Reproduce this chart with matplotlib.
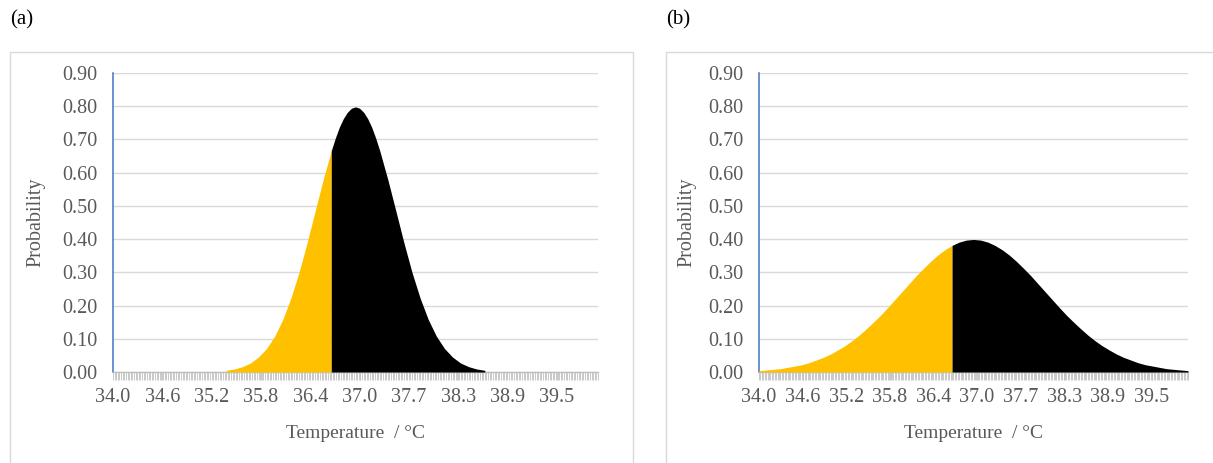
import matplotlib
matplotlib.use("Agg")
import matplotlib.pyplot as plt
from matplotlib.patches import Rectangle
from matplotlib.ticker import MultipleLocator

# ---- data ----
# (a) narrow curve, only drawn between 35.4 and 38.6 degC
temps_a = [35.4, 35.5, 35.6, 35.7, 35.8, 35.9, 36.0, 36.1, 36.2, 36.3,
           36.4, 36.5, 36.6, 36.7, 36.75, 36.8, 36.85, 36.9, 36.95, 37.0,
           37.05, 37.1, 37.15, 37.2, 37.25, 37.3,
           37.4, 37.5, 37.6, 37.7, 37.8, 37.9, 38.0, 38.1, 38.2, 38.3,
           38.4, 38.5, 38.6]
prob_a = [0.005, 0.009, 0.016, 0.027, 0.045, 0.071, 0.108, 0.158, 0.222, 0.299,
          0.388, 0.484, 0.579, 0.666, 0.704, 0.737, 0.763, 0.782, 0.794, 0.798,
          0.794, 0.782, 0.763, 0.737, 0.704, 0.666,
          0.579, 0.484, 0.388, 0.299, 0.222, 0.158, 0.108, 0.071, 0.045, 0.027,
          0.016, 0.009, 0.005]

# (b) wide curve over the whole range
temps_b = [34.0, 34.1, 34.2, 34.3, 34.4, 34.5, 34.6, 34.7, 34.8, 34.9,
           35.0, 35.1, 35.2, 35.3, 35.4, 35.5, 35.6, 35.7, 35.8, 35.9,
           36.0, 36.1, 36.2, 36.3, 36.4, 36.5, 36.6, 36.7, 36.8, 36.9,
           37.0, 37.1, 37.2, 37.3, 37.4, 37.5, 37.6, 37.7, 37.8, 37.9,
           38.0, 38.1, 38.2, 38.3, 38.4, 38.5, 38.6, 38.7, 38.8, 38.9,
           39.0, 39.1, 39.2, 39.3, 39.4, 39.5, 39.6, 39.7, 39.8, 39.9,
           40.0]
prob_b = [0.004, 0.006, 0.008, 0.010, 0.014, 0.018, 0.022, 0.028, 0.036, 0.044,
          0.054, 0.066, 0.079, 0.094, 0.111, 0.130, 0.150, 0.171, 0.194, 0.218,
          0.242, 0.266, 0.290, 0.312, 0.333, 0.352, 0.368, 0.381, 0.391, 0.397,
          0.399, 0.397, 0.391, 0.381, 0.368, 0.352, 0.333, 0.312, 0.290, 0.266,
          0.242, 0.218, 0.194, 0.171, 0.150, 0.130, 0.111, 0.094, 0.079, 0.066,
          0.054, 0.044, 0.036, 0.028, 0.022, 0.018, 0.014, 0.010, 0.008, 0.006,
          0.004]

cutoff = 36.7  # yellow below, black above

x_tick_pos = [34.0, 34.61, 35.22, 35.83, 36.44, 37.05, 37.66, 38.27, 38.88, 39.49]
x_tick_labels = ['34.0', '34.6', '35.2', '35.8', '36.4', '37.0', '37.7', '38.3', '38.9', '39.5']
y_ticks = [0.0, 0.1, 0.2, 0.3, 0.4, 0.5, 0.6, 0.7, 0.8, 0.9]

plt.rcParams['font.family'] = ['Liberation Serif', 'DejaVu Serif']
TXT = '#595959'
W, H = 1213, 463


def make_plot(fig, rect, temps, probs, ylab_x):
    ax = fig.add_axes(rect)
    low = [(t, p) for t, p in zip(temps, probs) if t <= cutoff]
    high = [(t, p) for t, p in zip(temps, probs) if t >= cutoff]
    ax.fill_between([v[0] for v in low], [v[1] for v in low], color='#FFC000', lw=0, zorder=3)
    ax.fill_between([v[0] for v in high], [v[1] for v in high], color='black', lw=0, zorder=3)

    ax.set_xlim(34.0, 40.0)
    ax.set_ylim(0, 0.90)
    ax.set_yticks(y_ticks)
    ax.set_yticklabels(['%.2f' % v for v in y_ticks])
    ax.set_xticks(x_tick_pos)
    ax.set_xticklabels(x_tick_labels)
    ax.xaxis.set_minor_locator(MultipleLocator(0.02))

    ax.grid(axis='y', color='#d9d9d9', lw=1.0, zorder=0)
    ax.set_axisbelow(True)
    for s in ['top', 'right']:
        ax.spines[s].set_visible(False)
    ax.spines['left'].set_color('#4472C4')
    ax.spines['left'].set_linewidth(1.1)
    ax.spines['bottom'].set_color('#bfbfbf')
    ax.spines['bottom'].set_linewidth(1.0)

    ax.tick_params(axis='y', length=0, pad=11, labelsize=14.5, labelcolor=TXT)
    ax.tick_params(axis='x', which='both', direction='out', length=5.5,
                   color='#c0c0c0', width=0.6, pad=6, labelsize=14.5, labelcolor=TXT)

    ax.set_ylabel('Probability', fontsize=14.5, color=TXT)
    ax.yaxis.set_label_coords(ylab_x, 0.5)
    ax.set_xlabel('Temperature  / \u00b0C', fontsize=14, color=TXT)
    ax.xaxis.set_label_coords(0.5, -0.205)
    ax.xaxis.label.set_verticalalignment('center')
    return ax


def main():
    fig = plt.figure(figsize=(W / 100, H / 100), dpi=100)

    # panel frames
    fig.patches.append(Rectangle((10 / W, -0.05), 623 / W, 1 - 52 / H + 0.05,
                                 transform=fig.transFigure, fill=False,
                                 edgecolor='#d9d9d9', lw=1.0))
    fig.patches.append(Rectangle((666 / W, -0.05), 600 / W, 1 - 52 / H + 0.05,
                                 transform=fig.transFigure, fill=False,
                                 edgecolor='#d9d9d9', lw=1.0))

    bottom = 1 - 372 / H
    height = 299 / H
    make_plot(fig, [113 / W, bottom, 485 / W, height], temps_a, prob_a, -0.140)
    make_plot(fig, [759 / W, bottom, 429 / W, height], temps_b, prob_b, -0.145)

    fig.text(10 / W, 1 - 20 / H, '(a)', fontsize=15, va='center', ha='left')
    fig.text(666 / W, 1 - 20 / H, '(b)', fontsize=15, va='center', ha='left')

    fig.savefig('out.png', dpi=100)


main()
